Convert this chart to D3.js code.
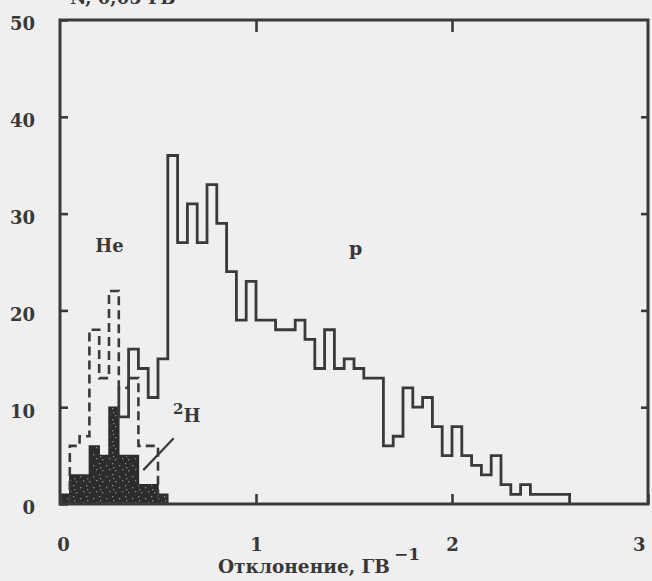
<!DOCTYPE html>
<html>
<head>
<meta charset="utf-8">
<script src="https://cdn.jsdelivr.net/npm/d3@7"></script>
<style>
body { margin: 0; background: #efefef; }
svg { display: block; }
text { font-family: "DejaVu Serif", serif; font-weight: bold; fill: #383838; }
</style>
</head>
<body>
<script>
//histogram bins are 0.05 GV^-1 wide
var binWidth = 0.05;

//protons (solid line), first bin at 0.30
var pStart = 0.30;
var pCounts = [9, 16, 14, 11, 15, 36, 27, 31, 27, 33, 29, 24, 19, 23, 19, 19, 18, 18, 19, 17,
               14, 18, 14, 15, 14, 13, 13, 6, 7, 12, 10, 11, 8, 5, 8, 5, 4, 3, 5, 2,
               1, 2, 1, 1, 1, 1];

//helium (dashed line), first bin at 0.05
var heStart = 0.05;
var heCounts = [6, 7, 18, 13, 22, 12, 13, 6, 6];

//deuterium (black filled), first bin at 0
var h2Start = 0.00;
var h2Counts = [1, 3, 3, 6, 5, 10, 5, 5, 2, 2, 1];

var xTicks = [0, 1, 2, 3];
var yTicks = [0, 10, 20, 30, 40, 50];

//frame dimensions (window.top is reserved, so plot* names)
var width = 652,
    height = 581,
    plotLeft = 60, plotRight = 648, plotTop = 20, plotBottom = 504;

var svg = d3.select("body")
    .append("svg")
    .attr("width", width)
    .attr("height", height);

//grainy fill like the printed black histogram
var pattern = svg.append("defs")
    .append("pattern")
    .attr("id", "grain")
    .attr("patternUnits", "userSpaceOnUse")
    .attr("width", 13)
    .attr("height", 11);
pattern.append("rect")
    .attr("width", 13)
    .attr("height", 11)
    .attr("fill", "#2c2c2c");
[[2, 3], [8, 1], [5, 7], [11, 8], [9, 5]].forEach(function(p){
    pattern.append("rect")
        .attr("x", p[0]).attr("y", p[1])
        .attr("width", 1.3).attr("height", 1.3)
        .attr("fill", "#8a8a8a");
});

svg.append("rect")
    .attr("width", width)
    .attr("height", height)
    .attr("fill", "#efefef");

var x = d3.scaleLinear().domain([0, 3]).range([plotLeft, plotRight]);
var y = d3.scaleLinear().domain([0, 50]).range([plotBottom, plotTop]);

function makeBins(start, counts){
    return counts.map(function(c, i){
        return {x0: start + i * binWidth, x1: start + (i + 1) * binWidth, n: c};
    });
}

//outline of a histogram as a list of [x, n] corners
function stepPoints(bins, startLevel){
    var pts = [[bins[0].x0, startLevel]];
    bins.forEach(function(d){
        pts.push([d.x0, d.n]);
        pts.push([d.x1, d.n]);
    });
    pts.push([bins[bins.length - 1].x1, 0]);
    return pts;
}

var line = d3.line()
    .x(function(d){ return x(d[0]); })
    .y(function(d){ return y(d[1]); });

var area = d3.area()
    .x(function(d){ return x(d[0]); })
    .y0(y(0))
    .y1(function(d){ return y(d[1]); });

var pBins = makeBins(pStart, pCounts),
    heBins = makeBins(heStart, heCounts),
    h2Bins = makeBins(h2Start, h2Counts);

//2H filled histogram
svg.append("path")
    .datum(stepPoints(h2Bins, 0))
    .attr("d", area)
    .attr("fill", "url(#grain)")
    .attr("stroke", "#2c2c2c")
    .attr("stroke-width", 1.5);

//He dashed histogram
svg.append("path")
    .datum(stepPoints(heBins, 0))
    .attr("d", line)
    .attr("fill", "none")
    .attr("stroke", "#3a3a3a")
    .attr("stroke-width", 2.6)
    .attr("stroke-dasharray", "9,5");

//proton histogram starts where the He line is at the same bin
var heAtStart = heBins.filter(function(d){ return Math.abs(d.x0 - pStart) < 1e-6; })[0].n;
svg.append("path")
    .datum(stepPoints(pBins, heAtStart))
    .attr("d", line)
    .attr("fill", "none")
    .attr("stroke", "#3a3a3a")
    .attr("stroke-width", 2.8)
    .attr("stroke-linejoin", "miter");

//frame
svg.append("rect")
    .attr("x", plotLeft)
    .attr("y", plotTop)
    .attr("width", plotRight - plotLeft)
    .attr("height", plotBottom - plotTop)
    .attr("fill", "none")
    .attr("stroke", "#3a3a3a")
    .attr("stroke-width", 3);

//axes with inward ticks
var xAxis = svg.append("g")
    .attr("transform", "translate(0," + plotBottom + ")")
    .call(d3.axisBottom(x).tickValues(xTicks).tickSize(-10).tickPadding(34).tickFormat(d3.format("d")));

xAxis.selectAll("text")
    .attr("text-anchor", function(d){ return d === 3 ? "end" : "middle"; })
    .attr("dx", function(d){ return d === 0 ? 3 : (d === 3 ? -3 : 0); });

var yAxis = svg.append("g")
    .attr("transform", "translate(" + plotLeft + ",0)")
    .call(d3.axisLeft(y).tickValues(yTicks).tickSize(-8).tickPadding(25));

yAxis.selectAll("text").attr("dy", "0.55em");

svg.append("g")
    .attr("transform", "translate(0," + plotTop + ")")
    .call(d3.axisTop(x).tickValues([1, 2]).tickSize(-12).tickFormat(""));

svg.append("g")
    .attr("transform", "translate(" + plotRight + ",0)")
    .call(d3.axisRight(y).tickValues([10, 20, 30, 40]).tickSize(-7).tickFormat(""));

svg.selectAll(".domain").remove();
svg.selectAll(".tick line")
    .attr("stroke", "#3a3a3a")
    .attr("stroke-width", 2.6);
svg.selectAll(".tick text")
    .style("font-family", "DejaVu Serif, serif")
    .style("font-size", "18px")
    .style("font-weight", "bold")
    .attr("fill", "#383838");

//axis titles
var xTitle = svg.append("text")
    .attr("x", 218)
    .attr("y", 573)
    .style("font-size", "18.5px")
    .text("Отклонение, ГВ");
xTitle.append("tspan")
    .attr("dy", -13)
    .attr("dx", 4)
    .style("font-size", "17px")
    .text("−1");

svg.append("text")
    .attr("x", 70)
    .attr("y", 4)
    .style("font-size", "18px")
    .text("N, 0,05 ГВ");

//series labels
svg.append("text")
    .attr("x", x(0.18))
    .attr("y", y(26))
    .style("font-size", "18px")
    .text("He");

svg.append("text")
    .attr("x", x(1.475))
    .attr("y", y(25.7))
    .style("font-size", "19px")
    .text("p");

var h2Label = svg.append("text")
    .attr("x", x(0.577))
    .attr("y", y(9.3))
    .style("font-size", "15px")
    .text("2");
h2Label.append("tspan")
    .attr("dy", 8)
    .style("font-size", "18px")
    .text("H");

//pointer from the 2H label to the filled histogram
svg.append("line")
    .attr("x1", x(0.425))
    .attr("y1", y(3.5))
    .attr("x2", x(0.58))
    .attr("y2", y(6.8))
    .attr("stroke", "#3a3a3a")
    .attr("stroke-width", 2.2);
</script>
</body>
</html>
